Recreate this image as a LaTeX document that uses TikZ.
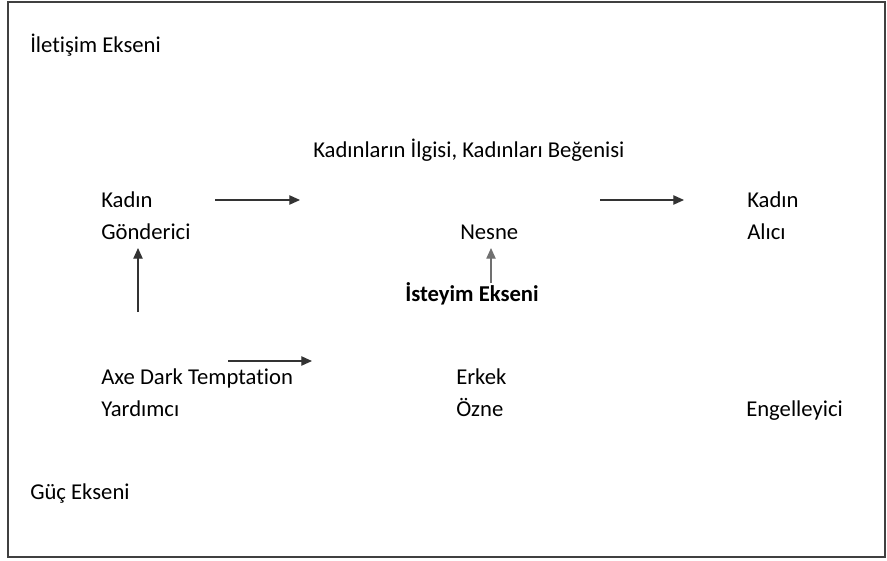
\documentclass[tikz,border=0pt]{standalone}
\usepackage{fontspec}
\setmainfont{Carlito}[Ligatures=NoCommon]
\usepackage{xcolor}
\usepackage{tikz}
\usetikzlibrary{arrows.meta, positioning}

\definecolor{framegray}{HTML}{404040}
\definecolor{axisgray}{HTML}{707070}
\tikzset{
  lbl/.style={anchor=base west, inner sep=0pt, font=\fontsize{17}{20}\selectfont},
  arr/.style={-{Triangle[length=8pt,width=7pt]}, line width=0.9pt, black!80},
}

\begin{document}
\begin{tikzpicture}[x=0.75pt, y=-0.75pt]
\useasboundingbox (0,0) rectangle (887,560);
\draw[framegray, line width=1.4pt] (8,2) rectangle (885,557);

% axis names
\node[lbl] (iletisim) at (30,53) {İletişim Ekseni};
\node[lbl] (guc) at (30,499) {Güç Ekseni};
\node[lbl, font=\fontsize{17}{20}\selectfont\bfseries] (isteyim) at (405,301) {İsteyim Ekseni};

% actants
\node[lbl] (ilgi) at (313,157) {Kadınların İlgisi, Kadınları Beğenisi};
\node[lbl] (kadin1) at (101,207) {Kadın};
\node[lbl] (gonderici) at (101,239) {Gönderici};
\node[lbl] (nesne) at (460,239) {Nesne};
\node[lbl] (kadin2) at (747,207) {Kadın};
\node[lbl] (alici) at (747,239) {Alıcı};
\node[lbl] (axe) at (101,384) {Axe Dark Temptation};
\node[lbl] (yardimci) at (101,416) {Yardımcı};
\node[lbl] (erkek) at (456,384) {Erkek};
\node[lbl] (ozne) at (456,416) {Özne};
\node[lbl] (engel) at (746,416) {Engelleyici};

% arrow ends
\coordinate (a1s) at (215,200);
\coordinate (a1e) at (300,200);
\coordinate (a2s) at (600,200);
\coordinate (a2e) at (684,200);
\coordinate (a3s) at (228,361);
\coordinate (a3e) at (312,361);
\coordinate (upl) at (138,312);
\coordinate (upr) at (491,283);

\draw[arr] (a1s) -- (a1e);
\draw[arr] (a2s) -- (a2e);
\draw[arr] (a3s) -- (a3e);
\draw[arr] (upl) -- (138,248);
\draw[arr, axisgray] (upr) -- (491,248);
\end{tikzpicture}
\end{document}
